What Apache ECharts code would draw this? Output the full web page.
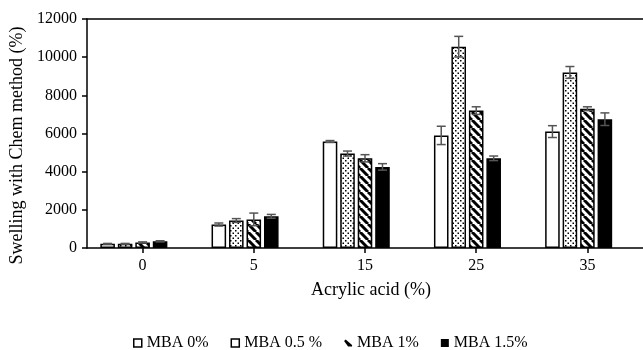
<!DOCTYPE html>
<html>
<head>
<meta charset="utf-8">
<script src="https://cdn.jsdelivr.net/npm/echarts@6/dist/echarts.min.js"></script>
<style>html,body{margin:0;padding:0;background:#fff;}#c{width:643px;height:350px;}</style>
</head>
<body>
<div id="c"></div>
<script>
// ---- data ----
const categories = ['0', '5', '15', '25', '35'];
const seriesNames = ['MBA 0%', 'MBA 0.5 %', 'MBA 1%', 'MBA 1.5%'];
const mba0  = [220, 1230, 5580, 5900, 6100];
const mba05 = [220, 1440, 4950, 10550, 9200];
const mba1  = [290, 1500, 4700, 7200, 7300];
const mba15 = [350, 1660, 4250, 4700, 6750];
const err0  = [20, 80, 50, 480, 310];
const err05 = [20, 100, 130, 540, 310];
const err1  = [30, 330, 190, 200, 100];
const err15 = [30, 100, 170, 120, 330];
const yTicks = [0, 2000, 4000, 6000, 8000, 10000, 12000];

const values = [mba0, mba05, mba1, mba15];
const errors = [err0, err05, err1, err15];

// ---- patterns ----
function dotPattern() {
  const c = document.createElement('canvas');
  c.width = 5; c.height = 5;
  const g = c.getContext('2d');
  g.fillStyle = '#fff'; g.fillRect(0, 0, 5, 5);
  g.fillStyle = '#000';
  g.fillRect(0, 0, 1.5, 1.5);
  g.fillRect(2.5, 2.5, 1.5, 1.5);
  return c;
}
function stripePattern() {
  const c = document.createElement('canvas');
  c.width = 8; c.height = 8;
  const g = c.getContext('2d');
  g.fillStyle = '#fff'; g.fillRect(0, 0, 8, 8);
  g.strokeStyle = '#000'; g.lineWidth = 3;
  for (const o of [-8, 0, 8]) {
    g.beginPath(); g.moveTo(o, 0); g.lineTo(o + 8, 8); g.stroke();
  }
  return c;
}
const fills = [
  '#ffffff',
  { image: dotPattern(), repeat: 'repeat' },
  { image: stripePattern(), repeat: 'repeat' },
  '#000000'
];

const FONT = 'Liberation Serif';
const GAP = '20%', CATGAP = '24%', SLOTS = 5;

const barSeries = seriesNames.map((n, i) => ({
  name: n,
  type: 'bar',
  data: values[i],
  barGap: GAP,
  barCategoryGap: CATGAP,
  itemStyle: { color: fills[i], borderColor: '#000', borderWidth: 1.5 },
  emphasis: { disabled: true },
  animation: false
}));
// empty slot that the original chart reserved after the four bars
barSeries.push({ name: 'spacer', type: 'bar', data: [], barGap: GAP, barCategoryGap: CATGAP, animation: false });

const errData = [];
values.forEach((arr, s) => arr.forEach((v, c) => errData.push([c, s, v, errors[s][c]])));

const errSeries = {
  type: 'custom',
  name: 'err',
  data: errData,
  encode: { x: 0, y: 2 },
  z: 10,
  animation: false,
  silent: true,
  renderItem: function (params, api) {
    const c = api.value(0), s = api.value(1), v = api.value(2), e = api.value(3);
    const layout = api.barLayout({ barGap: GAP, barCategoryGap: CATGAP, count: SLOTS });
    const x = api.coord([c, v])[0] + layout[s].offsetCenter;
    const yt = api.coord([c, v + e])[1];
    const yb = api.coord([c, v - e])[1];
    const hw = 4.5;
    const st = { stroke: '#555', lineWidth: 1.5, fill: null };
    return {
      type: 'group',
      children: [
        { type: 'line', shape: { x1: x, y1: yt, x2: x, y2: yb }, style: st },
        { type: 'line', shape: { x1: x - hw, y1: yt, x2: x + hw, y2: yt }, style: st },
        { type: 'line', shape: { x1: x - hw, y1: yb, x2: x + hw, y2: yb }, style: st }
      ]
    };
  }
};

const chart = echarts.init(document.getElementById('c'), null, { renderer: 'canvas' });
chart.setOption({
  backgroundColor: '#fff',
  animation: false,
  textStyle: { fontFamily: FONT, color: '#000' },
  grid: { left: 87, right: 0, top: 19, bottom: 102 },
  legend: {
    left: 128, top: 330,
    itemWidth: 8, itemHeight: 8, itemGap: 22,
    textStyle: { fontFamily: FONT, fontSize: 16, color: '#000' },
    data: [
      { name: seriesNames[0], icon: 'rect', itemStyle: { color: '#fff', borderColor: '#000', borderWidth: 1.5 } },
      { name: seriesNames[1], icon: 'rect', itemStyle: { color: '#fff', borderColor: '#000', borderWidth: 1.5 } },
      { name: seriesNames[2], icon: 'path://M0,3 L2,1 L10,8 L10,10 L5,10 Z', itemStyle: { color: '#000', borderWidth: 0 } },
      { name: seriesNames[3], icon: 'rect', itemStyle: { color: '#000', borderWidth: 0 } }
    ],
    selectedMode: false
  },
  xAxis: [{
    type: 'category',
    data: categories,
    name: 'Acrylic acid (%)',
    nameLocation: 'middle',
    nameGap: 33,
    nameTextStyle: { fontFamily: FONT, fontSize: 18, color: '#000', padding: [0, 0, 0, 12] },
    axisLine: { lineStyle: { color: '#000', width: 1.5 } },
    axisTick: { show: true, alignWithLabel: true, length: 5, lineStyle: { color: '#000', width: 1.5 } },
    axisLabel: { fontFamily: FONT, fontSize: 16, color: '#000', margin: 10 },
    splitLine: { show: false }
  }, {
    type: 'category',
    data: categories,
    position: 'top',
    axisLine: { lineStyle: { color: '#000', width: 1.5 } },
    axisTick: { show: false },
    axisLabel: { show: false },
    splitLine: { show: false }
  }],
  yAxis: {
    type: 'value',
    min: yTicks[0], max: yTicks[yTicks.length - 1], interval: yTicks[1] - yTicks[0],
    name: 'Swelling with Chem method (%)',
    nameLocation: 'middle',
    nameGap: 60,
    nameTextStyle: { fontFamily: FONT, fontSize: 18, color: '#000', padding: [0, 24, 0, 0] },
    axisLine: { show: true, lineStyle: { color: '#000', width: 1.5 } },
    axisTick: { show: true, length: 5, lineStyle: { color: '#000', width: 1.5 } },
    axisLabel: { fontFamily: FONT, fontSize: 16, color: '#000', margin: 10, formatter: v => String(v) },
    splitLine: { show: false }
  },
  series: barSeries.concat([errSeries])
});
</script>
</body>
</html>
